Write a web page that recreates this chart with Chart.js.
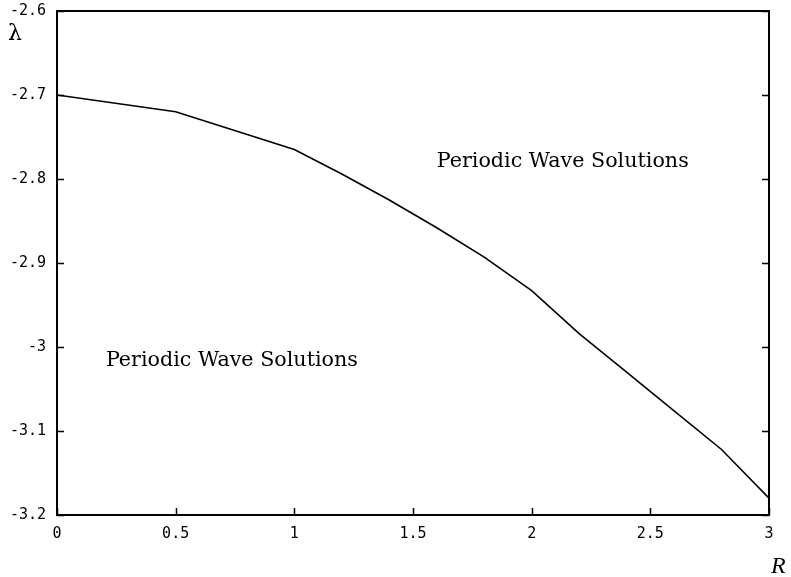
<!DOCTYPE html>
<html>
<head>
<meta charset="utf-8">
<script src="https://cdn.jsdelivr.net/npm/chart.js@4"></script>
<style>
html,body{margin:0;padding:0;background:#fff;}
#wrap{width:791px;height:577px;position:relative;}
</style>
</head>
<body>
<div id="wrap"><canvas id="c" width="791" height="577"></canvas></div>
<script>
const rValues = [0, 0.5, 1, 1.2, 1.4, 1.6, 1.8, 2, 2.2, 2.4, 2.6, 2.8, 3];
const lambdaValues = [-2.700, -2.720, -2.765, -2.794, -2.825, -2.858, -2.893, -2.933, -2.984, -3.030, -3.076, -3.122, -3.180];
const xTicks = [0, 0.5, 1, 1.5, 2, 2.5, 3];
const yTicks = [-2.6, -2.7, -2.8, -2.9, -3, -3.1, -3.2];
const xTickLabels = ['0', '0.5', '1', '1.5', '2', '2.5', '3'];
const yTickLabels = ['-2.6', '-2.7', '-2.8', '-2.9', '-3', '-3.1', '-3.2'];
const regionLabels = [
  {text: 'Periodic Wave Solutions', r: 1.60, l: -2.786},
  {text: 'Periodic Wave Solutions', r: 0.206, l: -3.023}
];
const xTitle = 'R';
const yTitle = 'λ';

const framePlugin = {
  id: 'frame',
  afterDatasetsDraw(chart) {
    const {ctx, chartArea: a, scales: {x, y}} = chart;
    ctx.save();
    ctx.strokeStyle = '#000';
    ctx.lineWidth = 2;
    ctx.strokeRect(a.left, a.top, a.right - a.left, a.bottom - a.top);
    ctx.lineWidth = 1.5;
    ctx.beginPath();
    const tl = 7;
    yTicks.forEach(v => {
      const py = Math.round(y.getPixelForValue(v)) + 0.5;
      ctx.moveTo(a.left, py); ctx.lineTo(a.left + tl, py);
      ctx.moveTo(a.right, py); ctx.lineTo(a.right - tl, py);
    });
    xTicks.forEach(v => {
      const px = Math.round(x.getPixelForValue(v)) + 0.5;
      ctx.moveTo(px, a.bottom); ctx.lineTo(px, a.bottom - tl);
    });
    ctx.stroke();
    ctx.fillStyle = '#000';
    ctx.textAlign = 'left';
    ctx.textBaseline = 'alphabetic';
    ctx.font = '21px "DejaVu Serif", serif';
    regionLabels.forEach(t => {
      const px = x.getPixelForValue(t.r), py = y.getPixelForValue(t.l);
      const w = ctx.measureText(t.text).width;
      ctx.save();
      ctx.translate(px, py);
      ctx.scale(252 / w, 1);
      ctx.fillText(t.text, 0, 0);
      ctx.restore();
    });
    ctx.font = 'italic 24px "Liberation Serif", "DejaVu Serif", serif';
    ctx.fillText(xTitle, 771, 573);
    ctx.font = '22px "DejaVu Serif", serif';
    ctx.fillText(yTitle, 8, 40);
    ctx.restore();
  }
};

new Chart(document.getElementById('c'), {
  type: 'line',
  data: {
    datasets: [{
      data: rValues.map((r, i) => ({x: r, y: lambdaValues[i]})),
      borderColor: '#000',
      borderWidth: 1.6,
      pointRadius: 0,
      tension: 0,
      fill: false
    }]
  },
  options: {
    responsive: false,
    animation: false,
    devicePixelRatio: 1,
    layout: {padding: {left: 0, top: 11, right: 22, bottom: 0}},
    plugins: {legend: {display: false}, tooltip: {enabled: false}},
    scales: {
      x: {
        type: 'linear', min: 0, max: 3,
        afterBuildTicks(s) { s.ticks = xTicks.map(v => ({value: v})); },
        afterFit(s) { s.height = 62; s.paddingLeft = 0; s.paddingRight = 0; },
        grid: {display: false, drawTicks: false},
        border: {display: false},
        ticks: {
          padding: 10, color: '#000', maxRotation: 0, autoSkip: false,
          font: {family: '"DejaVu Sans Mono", monospace', size: 15},
          callback(v) { const i = xTicks.indexOf(v); return i >= 0 ? xTickLabels[i] : ''; }
        }
      },
      y: {
        type: 'linear', min: -3.2, max: -2.6,
        afterBuildTicks(s) { s.ticks = yTicks.map(v => ({value: v})); },
        afterFit(s) { s.width = 57; s.paddingTop = 0; s.paddingBottom = 0; },
        grid: {display: false, drawTicks: false},
        border: {display: false},
        ticks: {
          padding: 11, color: '#000', autoSkip: false,
          font: {family: '"DejaVu Sans Mono", monospace', size: 15},
          callback(v) { const i = yTicks.findIndex(t => Math.abs(t - v) < 1e-9); return i >= 0 ? yTickLabels[i] : ''; }
        }
      }
    }
  },
  plugins: [framePlugin]
});
</script>
</body>
</html>
